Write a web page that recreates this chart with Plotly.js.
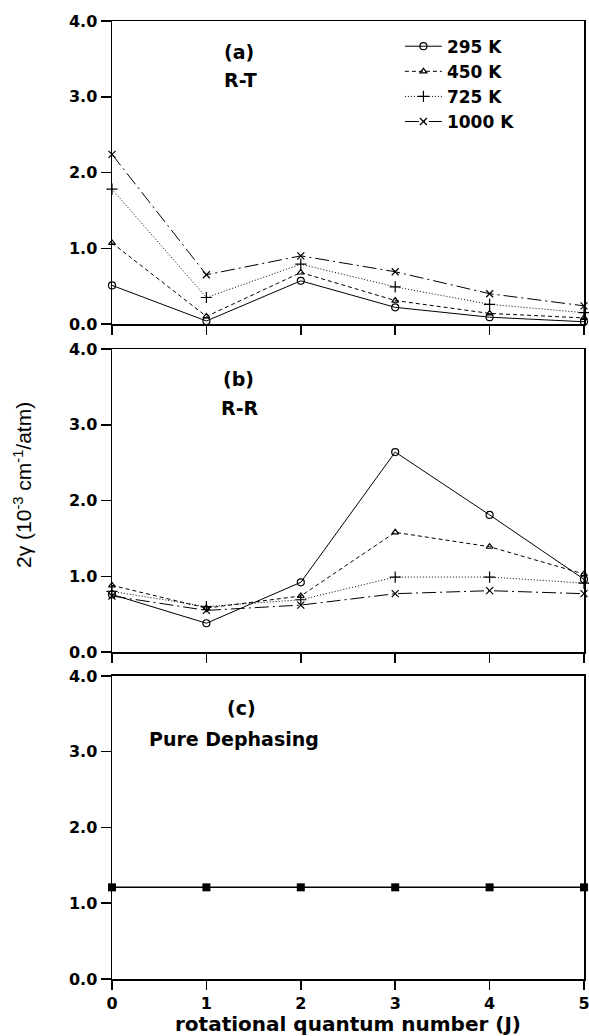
<!DOCTYPE html>
<html>
<head>
<meta charset="utf-8">
<script src="https://cdn.plot.ly/plotly-3.0.1.min.js"></script>
<style>html,body{margin:0;padding:0;background:#fff;}#chart{width:589px;height:1036px;}</style>
</head>
<body>
<div id="chart"></div>
<script>
// Rotational quantum number J
const J = [0, 1, 2, 3, 4, 5];
const temps = ["295 K", "450 K", "725 K", "1000 K"];
// (a) R-T
const rt295  = [0.51, 0.04, 0.57, 0.22, 0.09, 0.03];
const rt450  = [1.07, 0.10, 0.68, 0.31, 0.14, 0.08];
const rt725  = [1.78, 0.35, 0.79, 0.49, 0.26, 0.15];
const rt1000 = [2.24, 0.65, 0.90, 0.69, 0.40, 0.24];
// (b) R-R
const rr295  = [0.76, 0.38, 0.92, 2.64, 1.81, 0.96];
const rr450  = [0.88, 0.58, 0.74, 1.58, 1.39, 1.03];
const rr725  = [0.80, 0.60, 0.69, 0.99, 0.99, 0.91];
const rr1000 = [0.74, 0.55, 0.62, 0.77, 0.81, 0.77];
// (c) Pure dephasing
const pd = [1.21, 1.21, 1.21, 1.21, 1.21, 1.21];
const yTicks = [0, 1, 2, 3, 4];
const yTickText = ["0.0", "1.0", "2.0", "3.0", "4.0"];
const xTicks = [0, 1, 2, 3, 4, 5];

const styles = [
  {dash: "solid", symbol: "circle-open", size: 7},
  {dash: "4px,3px", symbol: "triangle-up-open", size: 6},
  {dash: "1px,2px", symbol: "cross-thin-open", size: 8},
  {dash: "14px,4px,2px,4px", symbol: "x-thin-open", size: 7}
];

function tr(y, i, xa, ya, showLeg) {
  return {
    x: J, y: y, xaxis: xa, yaxis: ya, type: "scatter", mode: "lines+markers",
    name: temps[i], showlegend: showLeg, cliponaxis: false,
    line: {color: "#000", width: 1, dash: styles[i].dash},
    marker: {symbol: styles[i].symbol, size: styles[i].size, color: "#000", line: {color: "#000", width: 1.2}}
  };
}

const data = [
  tr(rt295, 0, "x", "y", true), tr(rt450, 1, "x", "y", true),
  tr(rt725, 2, "x", "y", true), tr(rt1000, 3, "x", "y", true),
  tr(rr295, 0, "x2", "y2", false), tr(rr450, 1, "x2", "y2", false),
  tr(rr725, 2, "x2", "y2", false), tr(rr1000, 3, "x2", "y2", false),
  {x: J, y: pd, xaxis: "x3", yaxis: "y3", type: "scatter", mode: "lines+markers",
   showlegend: false, cliponaxis: false,
   line: {color: "#000", width: 1.5}, marker: {symbol: "square", size: 8, color: "#000"}}
];

const tickFont = {family: "DejaVu Sans", size: 16, color: "#000", weight: "bold"};
function xax(anchor, show) {
  return {anchor: anchor, range: [0, 5], tickvals: xTicks, ticktext: xTicks.map(String),
    showticklabels: show, ticks: "outside", ticklen: 9, tickwidth: 1.5, tickcolor: "#000",
    showline: true, linecolor: "#000", linewidth: 1.5, mirror: true, showgrid: false,
    zeroline: false, tickfont: tickFont, fixedrange: true, ticklabeloverflow: "allow"};
}
function yax(anchor, dom) {
  return {anchor: anchor, domain: dom, range: [0, 4], tickvals: yTicks, ticktext: yTickText,
    ticks: "outside", ticklen: 10, tickwidth: 1.5, tickcolor: "#000",
    showline: true, linecolor: "#000", linewidth: 1.5, mirror: true, showgrid: false,
    zeroline: false, tickfont: tickFont, fixedrange: true};
}

const txtFont = {family: "DejaVu Sans", size: 19, color: "#000", weight: "bold"};
function ann(text, xr, yr, x, y, xanchor) {
  return {text: text, xref: xr, yref: yr, x: x, y: y, showarrow: false, font: txtFont, xanchor: xanchor || "center", yanchor: "middle"};
}

const layout = {
  width: 589, height: 1036,
  margin: {l: 112, r: 5, t: 21, b: 57},
  paper_bgcolor: "#fff", plot_bgcolor: "#fff",
  font: {family: "DejaVu Sans", color: "#000"},
  xaxis: xax("y", false),
  xaxis2: xax("y2", false),
  xaxis3: Object.assign(xax("y3", true), {
    title: {text: "rotational quantum number (J)", font: {family: "DejaVu Sans", size: 20, color: "#000", weight: "bold"}, standoff: 0}
  }),
  yaxis: yax("x", [0.6837, 1]),
  yaxis2: yax("x2", [0.3413, 0.6576]),
  yaxis3: yax("x3", [0, 0.3163]),
  legend: {x: 0.61, y: 0.992, xanchor: "left", yanchor: "top", bgcolor: "rgba(0,0,0,0)",
    font: {family: "DejaVu Sans", size: 17, color: "#000", weight: "bold"}, tracegroupgap: 0, itemwidth: 37},
  annotations: [
    ann("(a)", "x", "y", 1.345, 3.59),
    ann("R-T", "x", "y", 1.356, 3.22),
    ann("(b)", "x2", "y2", 1.345, 3.60),
    ann("R-R", "x2", "y2", 1.356, 3.22),
    ann("(c)", "x3", "y3", 1.37, 3.58),
    ann("Pure Dephasing", "x3", "y3", 0.37, 3.17, "left"),
    {text: "2γ (10<sup>-3</sup> cm<sup>-1</sup>/atm)", xref: "paper", yref: "paper", x: -0.19, y: 0.516,
     showarrow: false, textangle: -90, font: {family: "Liberation Sans", size: 21, color: "#000"},
     xanchor: "center", yanchor: "middle"}
  ]
};

Plotly.newPlot("chart", data, layout, {staticPlot: true, displayModeBar: false});
</script>
</body>
</html>
